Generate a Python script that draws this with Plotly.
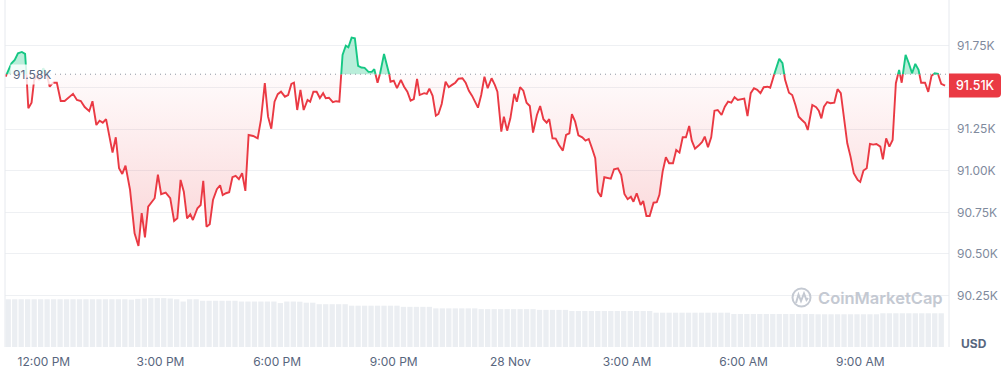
import plotly.graph_objects as go
from datetime import datetime, timedelta

# ---------------- data ----------------
start = datetime(2025, 11, 27, 11, 0)
base_price = 91580          # reference (open) price, dotted line
last_label = "91.51K"

minutes = [1,10,15,20,26,31,33,36,41,45,49,53,59,64,69,74,80,86,92,105,111,117,123,130,135,141,146,151,156,166,
           171,176,181,186,193,200,206,211,216,221,229,231,236,241,248,255,261,266,271,276,281,286,290,297,302,306,
           311,316,321,327,332,336,341,346,351,356,361,366,371,376,383,390,395,401,406,411,416,421,426,432,437,442,
           446,451,456,461,467,471,476,481,486,491,495,500,506,511,516,521,526,530,535,540,545,550,555,561,566,570,
           575,579,585,593,595,600,605,611,616,621,626,631,636,640,647,651,655,660,665,669,674,680,685,690,695,700,
           706,711,716,721,726,730,735,740,745,751,756,760,766,770,775,780,786,790,795,800,805,810,815,821,826,831,
           836,840,845,850,855,861,866,871,875,880,885,891,896,901,906,911,915,920,925,930,935,940,946,951,956,961,
           966,970,975,981,985,990,995,1001,1006,1010,1015,1020,1025,1031,1036,1041,1046,1051,1056,1060,1065,1071,
           1076,1080,1085,1090,1095,1100,1106,1111,1116,1121,1126,1131,1136,1141,1146,1151,1156,1161,1166,1171,1177,
           1181,1185,1190,1195,1200,1204,1210,1215,1220,1225,1230,1235,1239,1246,1252,1256,1260,1264,1269,1274,1280,
           1285,1290,1295,1300,1305,1310,1316,1320,1325,1330,1335,1340,1345,1351,1355,1360,1365,1370,1375,1380,1384,
           1390,1395,1400,1405,1410,1414,1420,1425,1430,1435,1440,1445,1451]

prices = [91565,91646,91666,91706,91714,91702,91588,91376,91409,91546,91570,91546,91616,91586,91505,91529,91529,
          91419,91419,91462,91425,91419,91383,91358,91418,91275,91301,91289,91310,91109,91201,91015,90981,91031,
          90885,90624,90548,90745,90600,90784,90820,90835,90977,90859,90868,90835,90698,90714,90945,90874,90714,
          90738,90704,90775,90794,90940,90664,90678,90824,90889,90913,90854,90865,90871,90961,90969,90949,90985,
          90879,91215,91209,91195,91305,91526,91325,91253,91415,91460,91475,91445,91455,91522,91529,91365,91486,
          91365,91425,91415,91475,91475,91437,91466,91436,91439,91412,91418,91415,91696,91752,91742,91800,91796,
          91630,91620,91618,91594,91594,91610,91529,91586,91702,91580,91535,91541,91496,91546,91505,91475,91421,
          91431,91552,91455,91466,91462,91493,91450,91331,91341,91401,91535,91502,91516,91529,91553,91556,91529,
          91480,91450,91415,91379,91455,91565,91496,91556,91516,91475,91235,91325,91241,91315,91462,91415,91502,
          91481,91409,91389,91229,91335,91389,91310,91289,91310,91195,91193,91155,91121,91215,91225,91340,91295,
          91213,91201,91181,91191,91135,91075,90874,90844,90961,90955,90952,91009,91015,90975,90861,90829,90844,
          90814,90865,90794,90818,90728,90728,90808,90811,90855,90995,91081,91045,91045,91125,91109,91201,91201,
          91269,91181,91133,91153,91173,91205,91141,91201,91361,91365,91335,91385,91415,91409,91442,91425,91430,
          91433,91329,91466,91496,91486,91466,91502,91505,91499,91550,91616,91672,91646,91546,91469,91455,91395,
          91325,91305,91287,91245,91395,91382,91361,91315,91385,91413,91406,91409,91490,91466,91305,91165,91085,
          90985,90945,90933,91001,91015,91161,91157,91161,91145,91069,91195,91145,91185,91526,91606,91529,91696,
          91646,91586,91642,91606,91529,91529,91474,91570,91586,91582,91522,91512]

# 24h volume (billions USD), one bar per 10 minutes
volume = ([63]*19 + [62.5] + [63.5, 64, 64.5, 64.5, 64.5, 64, 63] + [60] + [63, 63] + [61]*6 + [60]*6 + [58]
          + [60, 60, 59.8] + [58.5, 58.5] + [56.5]*5 + [54.5]*8 + [53]*5 + [51]*7 + [50]*9 + [49]*5
          + [47.5]*13 + [45.3]*12 + [43.6]*13 + [43.2]*10 + [44.5]*10)

# grid levels; the 91.50K label is hidden behind the last-price tag in the original
y_tick_vals = [90250, 90500, 90750, 91000, 91250, 91500, 91750]
y_tick_text = ["90.25K", "90.50K", "90.75K", "91.00K", "91.25K", "", "91.75K"]
x_tick_hours = [1, 4, 7, 10, 13, 16, 19, 22]
x_tick_text = ["12:00 PM", "3:00 PM", "6:00 PM", "9:00 PM", "28 Nov", "3:00 AM", "6:00 AM", "9:00 AM"]

# ---------------- styling ----------------
RED = "#ea3943"
GREEN = "#16c784"
W, H = 1007, 370
PL, PR, PT, PB = 5, 949, 0, 347          # plot area in pixels
Y_RANGE = [89941, 92026]
X_END_MIN = 1457
VOL_RANGE = [0, 458]

def px2paper(x, y):
    return (x - PL) / (PR - PL), (PB - y) / (PB - PT)

T = [start + timedelta(minutes=m) for m in minutes]

# split the line at the base price
dt, dp = [], []
for i in range(len(prices)):
    if i > 0:
        p0, p1 = prices[i - 1], prices[i]
        if (p0 - base_price) * (p1 - base_price) < 0:
            f = (base_price - p0) / (p1 - p0)
            dt.append(T[i - 1] + (T[i] - T[i - 1]) * f)
            dp.append(base_price)
    dt.append(T[i])
    dp.append(prices[i])

red_line = [p if p <= base_price else None for p in dp]
green_line = [p if p >= base_price else None for p in dp]
lower = [min(p, base_price) for p in dp]
upper = [max(p, base_price) for p in dp]
basel = [base_price] * len(dp)

vol_t = [start + timedelta(minutes=10 * i + 5) for i in range(len(volume))]

fig = go.Figure()

fig.add_trace(go.Bar(x=vol_t, y=volume, yaxis="y2", marker=dict(color="#ebeef2", line=dict(width=0)),
                     hoverinfo="skip", showlegend=False))

fig.add_trace(go.Scatter(x=dt, y=basel, mode="lines", line=dict(width=0), hoverinfo="skip", showlegend=False))
fig.add_trace(go.Scatter(x=dt, y=lower, mode="lines", line=dict(width=0), fill="tonexty",
                         fillgradient=dict(type="vertical", start=90300, stop=base_price,
                                           colorscale=[[0, "rgba(234,57,67,0.26)"], [1, "rgba(234,57,67,0.02)"]]),
                         hoverinfo="skip", showlegend=False))
fig.add_trace(go.Scatter(x=dt, y=basel, mode="lines", line=dict(width=0), hoverinfo="skip", showlegend=False))
fig.add_trace(go.Scatter(x=dt, y=upper, mode="lines", line=dict(width=0), fill="tonexty",
                         fillcolor="rgba(22,199,132,0.30)", hoverinfo="skip", showlegend=False))

fig.add_trace(go.Scatter(x=dt, y=red_line, mode="lines", line=dict(color=RED, width=1.9),
                         connectgaps=False, showlegend=False))
fig.add_trace(go.Scatter(x=dt, y=green_line, mode="lines", line=dict(color=GREEN, width=1.9),
                         connectgaps=False, showlegend=False))

# dotted base line
fig.add_shape(type="line", xref="paper", yref="y", x0=0, x1=1, y0=base_price, y1=base_price,
              line=dict(color="#8f96a3", width=1, dash="1px,4px"), layer="above")

# border lines
for xp in (0, 1):
    fig.add_shape(type="line", xref="paper", yref="paper", x0=xp, x1=xp, y0=0, y1=1,
                  line=dict(color="#e6e9ee", width=1), layer="above")

# base price label
bx, by = px2paper(10, 0)
fig.add_annotation(xref="paper", yref="y", x=bx, y=base_price, xanchor="left", yanchor="middle",
                   text="91.58K", showarrow=False, font=dict(family="Inter", size=12, color="#58667e"),
                   bgcolor="rgba(255,255,255,0.82)", borderpad=2)

# last price tag (rounded)
yfrac = lambda v: (v - Y_RANGE[0]) / (Y_RANGE[1] - Y_RANGE[0])
ly = yfrac(prices[-1])
th = 12 / (PB - PT)
x0p, _ = px2paper(PR, 0)
x1p, _ = px2paper(1001, 0)
rx = 4 / (PR - PL)
ry = 4 / (PB - PT)
path = (f"M {x0p},{ly-th} L {x1p-rx},{ly-th} Q {x1p},{ly-th} {x1p},{ly-th+ry} "
        f"L {x1p},{ly+th-ry} Q {x1p},{ly+th} {x1p-rx},{ly+th} L {x0p},{ly+th} Z")
fig.add_shape(type="path", xref="paper", yref="paper", path=path, fillcolor=RED,
              line=dict(color=RED, width=0), layer="above")
fig.add_annotation(xref="paper", yref="paper", x=(x0p + x1p) / 2, y=ly, text=last_label, showarrow=False,
                   font=dict(family="Inter", size=12.5, color="white", weight=500),
                   xanchor="center", yanchor="middle")

# watermark
cx0, cy0 = px2paper(792.5, 306.5)
cx1, cy1 = px2paper(810.5, 288.5)
fig.add_shape(type="circle", xref="paper", yref="paper", x0=cx0, x1=cx1, y0=cy0, y1=cy1,
              line=dict(color="#c4c9d2", width=2), layer="above")
pts = [(796, 303), (798.5, 294.5), (801, 301), (804, 293.5), (806.5, 300), (808, 298)]
wp = "M " + " L ".join(f"{px2paper(a, b)[0]},{px2paper(a, b)[1]}" for a, b in pts)
fig.add_shape(type="path", xref="paper", yref="paper", path=wp, line=dict(color="#c4c9d2", width=2),
              layer="above")
tx, ty = px2paper(816, 298)
fig.add_annotation(xref="paper", yref="paper", x=tx, y=ty, xanchor="left", yanchor="middle",
                   text="CoinMarketCap", showarrow=False,
                   font=dict(family="Inter", size=16.5, color="#c4c9d2", weight=600))

# USD label
ux, uy = px2paper(974, 343)
fig.add_annotation(xref="paper", yref="paper", x=ux, y=uy, text="<b>USD</b>", showarrow=False,
                   xanchor="center", yanchor="middle", font=dict(family="Inter", size=12, color="#58667e"))

fig.update_layout(
    width=W, height=H,
    margin=dict(l=PL, r=W - PR, t=PT, b=H - PB),
    paper_bgcolor="white", plot_bgcolor="white",
    bargap=0.18,
    xaxis=dict(type="date", range=[start, start + timedelta(minutes=X_END_MIN)],
               tickvals=[start + timedelta(hours=h) for h in x_tick_hours], ticktext=x_tick_text,
               showgrid=False, zeroline=False, showline=False, ticks="",
               tickfont=dict(family="Inter", size=12, color="#58667e"), ticklabelstandoff=6),
    yaxis=dict(side="right", range=Y_RANGE, tickvals=y_tick_vals, ticktext=y_tick_text,
               showgrid=True, gridcolor="#eef0f3", gridwidth=1, zeroline=False, showline=False, ticks="",
               tickfont=dict(family="Inter", size=12, color="#808a9d"), ticklabelstandoff=7),
    yaxis2=dict(overlaying="y", range=VOL_RANGE, visible=False, showgrid=False),
    showlegend=False,
)

fig.write_html("out.html")
